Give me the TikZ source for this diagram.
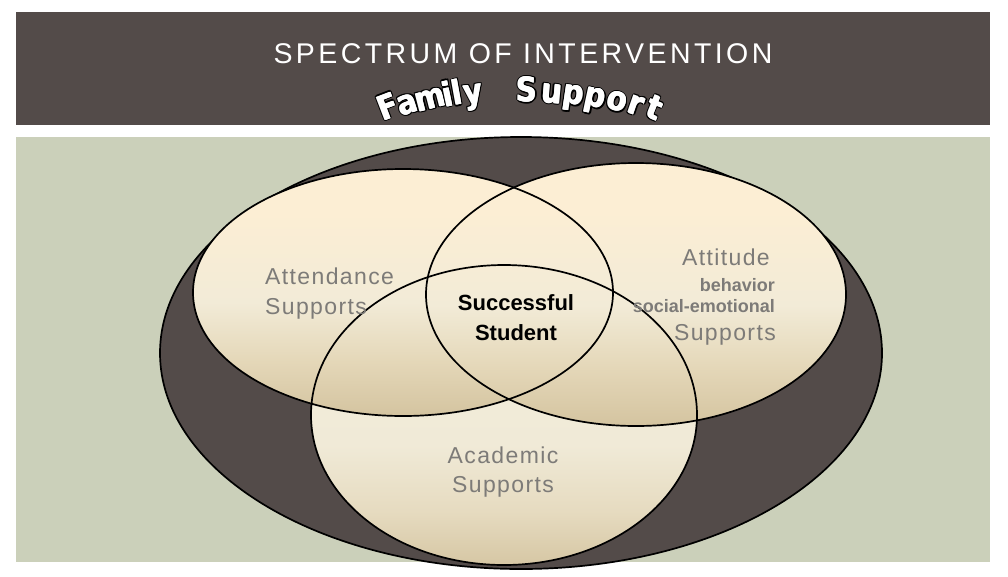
\documentclass[tikz,border=0pt]{standalone}
\usepackage{graphicx}
\usepackage{fontspec}
\setmainfont{Liberation Sans}
\newfontfamily\titlefont[LetterSpace=12]{Liberation Sans}
\newfontfamily\lblfont[LetterSpace=6]{Liberation Sans}
\newfontfamily\wafont{DejaVu Sans}
\definecolor{band}{RGB}{83,75,73}
\definecolor{panel}{RGB}{203,208,186}
\definecolor{creamtop}{RGB}{252,238,212}
\definecolor{creammid}{RGB}{242,235,215}
\definecolor{creamlow}{RGB}{228,215,184}
\definecolor{tanbot}{RGB}{212,196,160}
\definecolor{acadtop}{RGB}{245,239,221}
\definecolor{acadmid}{RGB}{240,234,215}
\definecolor{acadlow}{RGB}{230,219,192}
\definecolor{acadbot}{RGB}{214,199,164}
\definecolor{labelgray}{RGB}{125,123,120}
\pgfdeclareverticalshading{creamshade}{100bp}{color(0bp)=(tanbot); color(25bp)=(tanbot); color(36bp)=(creamlow); color(48bp)=(creammid); color(66bp)=(creamtop); color(100bp)=(creamtop)}
\pgfdeclareverticalshading{acadshade}{100bp}{color(0bp)=(acadbot); color(25bp)=(acadbot); color(34bp)=(acadlow); color(45bp)=(acadmid); color(75bp)=(acadtop); color(100bp)=(acadtop)}
\newcommand\olcopy[4]{\makebox[0pt][l]{\hspace*{#1}\raisebox{#2}{\textcolor{#3}{#4}}}}
\newcommand\olet[1]{\scalebox{1.16}[1.35]{%
  \olcopy{-1.5pt}{0pt}{black}{#1}\olcopy{1.5pt}{0pt}{black}{#1}%
  \olcopy{0pt}{1pt}{black}{#1}\olcopy{0pt}{-1pt}{black}{#1}%
  \olcopy{-1.1pt}{.75pt}{black}{#1}\olcopy{1.1pt}{.75pt}{black}{#1}%
  \olcopy{-1.1pt}{-.75pt}{black}{#1}\olcopy{1.1pt}{-.75pt}{black}{#1}%
  \olcopy{-.5pt}{0pt}{white}{#1}\olcopy{.5pt}{0pt}{white}{#1}%
  \textcolor{white}{#1}}}
\begin{document}
\begin{tikzpicture}[x=1pt,y=-1pt,
  outl/.style={draw=black,line width=1.7pt},
  lbl/.style={inner sep=0pt,text=labelgray,font=\lblfont\fontsize{23}{23}\selectfont},
  lblsmall/.style={inner sep=0pt,text=labelgray,font=\bfseries\fontsize{18}{18}\selectfont},
  center text/.style={inner sep=0pt,text=black,font=\bfseries\fontsize{22}{22}\selectfont},
  waletter/.style={inner sep=0pt,text height=24pt,text depth=0pt,font=\wafont\bfseries\fontsize{25}{25}\selectfont}]
\useasboundingbox (0,0) rectangle (1008,576);
\fill[white] (0,0) rectangle (1008,576);
% title band and panel
\fill[band] (16,12) rectangle (990,125);
\fill[panel] (16,137) rectangle (990,562);
\node[anchor=base,inner sep=0pt,text=white,font=\titlefont\fontsize{28.5}{28.5}\selectfont] (title) at (523,63) {SPECTRUM OF INTERVENTION};
% Family Support arched letters
\node[waletter,rotate=21]   (fs1)  at (388,106.5) {\olet{F}};
\node[waletter,rotate=18]   (fs2)  at (407,102)   {\olet{a}};
\node[waletter,rotate=14.5] (fs3)  at (430,97.2)  {\olet{m}};
\node[waletter,rotate=11.8] (fs4)  at (447.5,94.4){\olet{i}};
\node[waletter,rotate=10.3] (fs5)  at (457,93.1)  {\olet{l}};
\node[waletter,rotate=7.7]  (fs6)  at (473,91.3)  {\olet{y}};
\node[waletter,rotate=-1.1] (fs7)  at (527,90)    {\olet{S}};
\node[waletter,rotate=-5.1] (fs8)  at (552,91)    {\olet{u}};
\node[waletter,rotate=-8.5] (fs9)  at (574,92.5)  {\olet{p}};
\node[waletter,rotate=-12.1](fs10) at (596,95.2)  {\olet{p}};
\node[waletter,rotate=-15.8](fs11) at (618,99)    {\olet{o}};
\node[waletter,rotate=-18.9](fs12) at (637,103)   {\olet{r}};
\node[waletter,rotate=-21.9](fs13) at (655,107.6) {\olet{t}};
% big family ellipse
\filldraw[fill=band,outl] (521,353) ellipse [x radius=361, y radius=216];
% fills
\shade[shading=acadshade] (504,415) ellipse [x radius=193, y radius=150];
\shade[shading=creamshade] (403,292.5) ellipse [x radius=210, y radius=123.5];
\shade[shading=creamshade] (636,294.5) ellipse [x radius=210, y radius=131.5];
% outlines
\draw[outl] (504,415) ellipse [x radius=193, y radius=150];
\draw[outl] (403,292.5) ellipse [x radius=210, y radius=123.5];
\draw[outl] (636,294.5) ellipse [x radius=210, y radius=131.5];
% labels
\node[lbl,anchor=base west] (att1) at (265,284) {Attendance};
\node[lbl,anchor=base west] (att2) at (265,314) {Supports};
\node[center text,anchor=base] (ss1) at (516,310) {Successful};
\node[center text,anchor=base] (ss2) at (516,340) {Student};
\node[lbl,anchor=base east] (ati1) at (770,265) {Attitude};
\node[lblsmall,anchor=base east] (ati2) at (775,291) {behavior};
\node[lblsmall,anchor=base east] (ati3) at (775,312) {social-emotional};
\node[lbl,anchor=base east] (ati4) at (776,340) {Supports};
\node[lbl,anchor=base] (aca1) at (503,463) {Academic};
\node[lbl,anchor=base] (aca2) at (503,492) {Supports};
\end{tikzpicture}
\end{document}
